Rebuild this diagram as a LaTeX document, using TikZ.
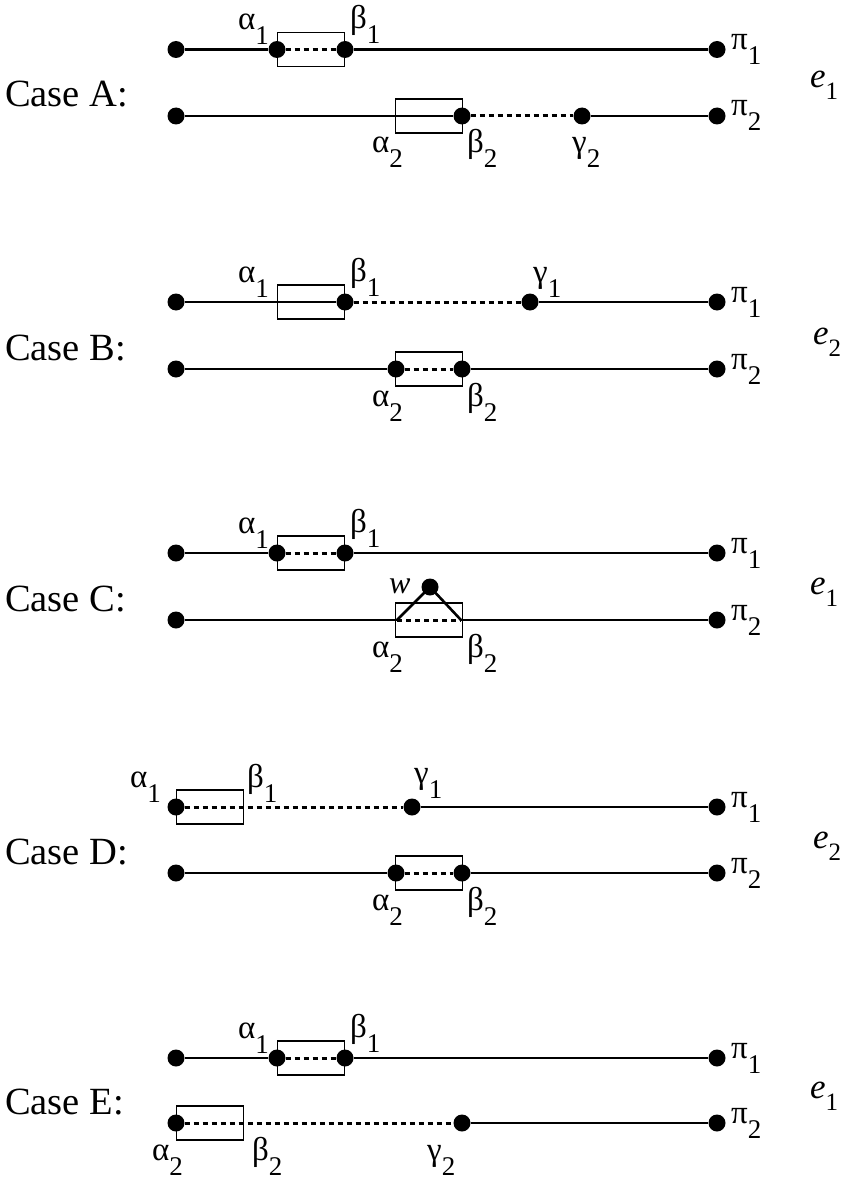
\documentclass[tikz,border=0pt]{standalone}
\usepackage{fontspec}
\setmainfont{Liberation Serif}
\newcommand{\gsub}[2]{{\fontsize{33}{33}\selectfont #1\raisebox{-15pt}{\fontsize{27}{27}\selectfont #2}}}
\newcommand{\esub}[1]{{\fontsize{35}{35}\selectfont\textit{e}\raisebox{-12pt}{\fontsize{25}{25}\selectfont #1}}}
\tikzset{
  dot/.style={circle,fill=black,draw=none,inner sep=0pt,minimum size=17pt},
  edge/.style={line width=2.6pt},
  dedge/.style={line width=3pt,dash pattern=on 5pt off 4pt},
  boxn/.style={draw,line width=1.8pt,inner sep=0pt,minimum width=67pt,minimum height=34pt},
  lab/.style={anchor=base west,inner sep=0pt},
  casetxt/.style={anchor=base west,inner sep=0pt,font=\fontsize{38.5}{40}\selectfont},
}
\begin{document}
\begin{tikzpicture}[x=1pt,y=-1pt]
\useasboundingbox (0,0) rectangle (848,1180);
% ================= Case A =================
\node[casetxt] (cA) at (5,107) {Case A:};
\node[boxn] (A1box) at (311,49.5) {};
\node[boxn] (A2box) at (429,116) {};
\node[dot] (A1s) at (176,49.5) {};
\node[dot] (A1a) at (277,49.5) {};
\node[dot] (A1b) at (345,49.5) {};
\node[dot] (A1p) at (717,49.5) {};
\draw[edge] (A1s) -- (A1a);
\draw[dedge] (A1a) -- (A1b);
\draw[edge] (A1b) -- (A1p);
\node[dot] (A2s) at (176,116) {};
\node[dot] (A2b) at (462,116) {};
\node[dot] (A2g) at (582,116) {};
\node[dot] (A2p) at (717,116) {};
\draw[edge] (A2s) -- (A2b);
\draw[dedge] (A2b) -- (A2g);
\draw[edge] (A2g) -- (A2p);
\node[lab] (lA1a) at (238,29.5) {\gsub{α}{1}};
\node[lab] (lA1b) at (350,28.5) {\gsub{β}{1}};
\node[lab] (lA1p) at (731,49.5) {\gsub{π}{1}};
\node[lab] (lA2a) at (372,153) {\gsub{α}{2}};
\node[lab] (lA2b) at (467,153) {\gsub{β}{2}};
\node[lab] (lA2g) at (572,153) {\gsub{γ}{2}};
\node[lab] (lA2p) at (731,116) {\gsub{π}{2}};
\node[lab] (eA) at (810,88) {\esub{1}};
% ================= Case B =================
\node[casetxt] (cB) at (5,360) {Case B:};
\node[boxn] (B1box) at (311,302) {};
\node[boxn] (B2box) at (429,369) {};
\node[dot] (B1s) at (176,302) {};
\node[dot] (B1b) at (345,302) {};
\node[dot] (B1g) at (530,302) {};
\node[dot] (B1p) at (717,302) {};
\draw[edge] (B1s) -- (B1b);
\draw[dedge] (B1b) -- (B1g);
\draw[edge] (B1g) -- (B1p);
\node[dot] (B2s) at (176,369) {};
\node[dot] (B2a) at (396,369) {};
\node[dot] (B2b) at (462,369) {};
\node[dot] (B2p) at (717,369) {};
\draw[edge] (B2s) -- (B2a);
\draw[dedge] (B2a) -- (B2b);
\draw[edge] (B2b) -- (B2p);
\node[lab] (lB1a) at (238,282) {\gsub{α}{1}};
\node[lab] (lB1b) at (350,281) {\gsub{β}{1}};
\node[lab] (lB1g) at (533,282) {\gsub{γ}{1}};
\node[lab] (lB1p) at (731,302) {\gsub{π}{1}};
\node[lab] (lB2a) at (372,406) {\gsub{α}{2}};
\node[lab] (lB2b) at (467,406) {\gsub{β}{2}};
\node[lab] (lB2p) at (731,369) {\gsub{π}{2}};
\node[lab] (eB) at (813,344) {\esub{2}};
% ================= Case C =================
\node[casetxt] (cC) at (5,611) {Case C:};
\node[boxn] (C1box) at (311,553) {};
\node[boxn] (C2box) at (429,620) {};
\node[dot] (C1s) at (176,553) {};
\node[dot] (C1a) at (277,553) {};
\node[dot] (C1b) at (345,553) {};
\node[dot] (C1p) at (717,553) {};
\draw[edge] (C1s) -- (C1a);
\draw[dedge] (C1a) -- (C1b);
\draw[edge] (C1b) -- (C1p);
\node[dot] (C2s) at (176,620) {};
\coordinate (C2a) at (397,620);
\coordinate (C2b) at (461,620);
\node[dot] (C2p) at (717,620) {};
\node[dot] (C2w) at (430,587) {};
\draw[edge] (C2s) -- (C2a);
\draw[dedge] (C2a) -- (C2b);
\draw[edge] (C2b) -- (C2p);
\draw[edge] (C2w.center) -- (C2a);
\draw[edge] (C2w.center) -- (C2b);
\node[lab] (lC1a) at (238,533) {\gsub{α}{1}};
\node[lab] (lC1b) at (350,532) {\gsub{β}{1}};
\node[lab] (lC1p) at (731,553) {\gsub{π}{1}};
\node[lab] (lC2w) at (389,593) {\fontsize{32}{32}\selectfont\textit{w}};
\node[lab] (lC2a) at (372,657) {\gsub{α}{2}};
\node[lab] (lC2b) at (467,657) {\gsub{β}{2}};
\node[lab] (lC2p) at (731,620) {\gsub{π}{2}};
\node[lab] (eC) at (810,594) {\esub{1}};
% ================= Case D =================
\node[casetxt] (cD) at (5,864) {Case D:};
\node[boxn] (D1box) at (210,807) {};
\node[boxn] (D2box) at (429,873) {};
\node[dot] (D1a) at (176,807) {};
\node[dot] (D1g) at (412,807) {};
\node[dot] (D1p) at (717,807) {};
\draw[dedge] (D1a) -- (D1g);
\draw[edge] (D1g) -- (D1p);
\node[dot] (D2s) at (176,873) {};
\node[dot] (D2a) at (396,873) {};
\node[dot] (D2b) at (462,873) {};
\node[dot] (D2p) at (717,873) {};
\draw[edge] (D2s) -- (D2a);
\draw[dedge] (D2a) -- (D2b);
\draw[edge] (D2b) -- (D2p);
\node[lab] (lD1a) at (130,787) {\gsub{α}{1}};
\node[lab] (lD1b) at (247,787) {\gsub{β}{1}};
\node[lab] (lD1g) at (414,783) {\gsub{γ}{1}};
\node[lab] (lD1p) at (731,807) {\gsub{π}{1}};
\node[lab] (lD2a) at (372,910) {\gsub{α}{2}};
\node[lab] (lD2b) at (467,910) {\gsub{β}{2}};
\node[lab] (lD2p) at (731,873) {\gsub{π}{2}};
\node[lab] (eD) at (813,848) {\esub{2}};
% ================= Case E =================
\node[casetxt] (cE) at (5,1114) {Case E:};
\node[boxn] (E1box) at (311,1058) {};
\node[boxn] (E2box) at (210,1123) {};
\node[dot] (E1s) at (176,1058) {};
\node[dot] (E1a) at (277,1058) {};
\node[dot] (E1b) at (345,1058) {};
\node[dot] (E1p) at (717,1058) {};
\draw[edge] (E1s) -- (E1a);
\draw[dedge] (E1a) -- (E1b);
\draw[edge] (E1b) -- (E1p);
\node[dot] (E2a) at (176,1123) {};
\node[dot] (E2g) at (462,1123) {};
\node[dot] (E2p) at (717,1123) {};
\draw[dedge] (E2a) -- (E2g);
\draw[edge] (E2g) -- (E2p);
\node[lab] (lE1a) at (238,1038) {\gsub{α}{1}};
\node[lab] (lE1b) at (350,1037) {\gsub{β}{1}};
\node[lab] (lE1p) at (731,1058) {\gsub{π}{1}};
\node[lab] (lE2a) at (152,1160) {\gsub{α}{2}};
\node[lab] (lE2b) at (252,1160) {\gsub{β}{2}};
\node[lab] (lE2g) at (427,1160) {\gsub{γ}{2}};
\node[lab] (lE2p) at (731,1123) {\gsub{π}{2}};
\node[lab] (eE) at (810,1098) {\esub{1}};
\end{tikzpicture}
\end{document}
